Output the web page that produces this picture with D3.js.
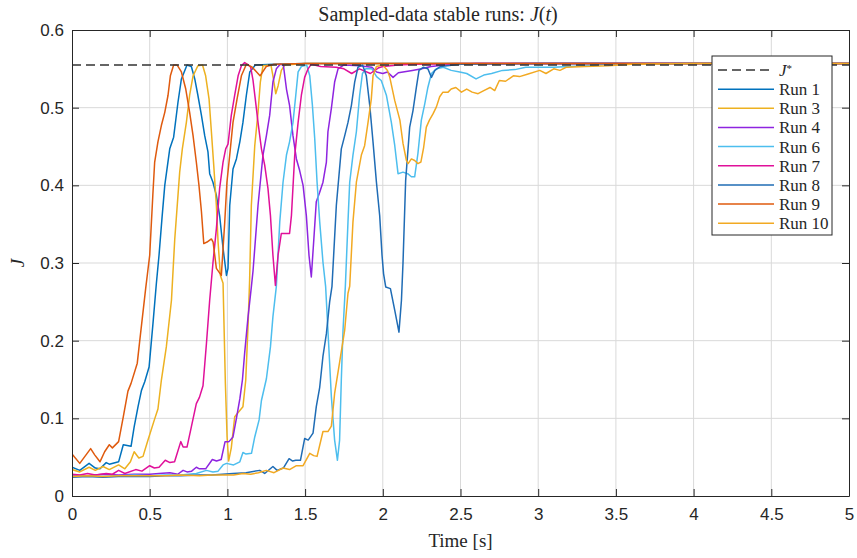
<!DOCTYPE html>
<html>
<head>
<meta charset="utf-8">
<script src="https://cdn.jsdelivr.net/npm/d3@7"></script>
<style>
  body { margin: 0; background: #fff; }
  .tick text { font-family: "Liberation Sans", Arial, sans-serif; font-size: 17px; fill: #262626; }
</style>
</head>
<body>
<div id="chart"></div>
<script>
// Reference value of the cost
const jStar = 0.555;

// Tick values for both axes
const xTicks = [0, 0.5, 1, 1.5, 2, 2.5, 3, 3.5, 4, 4.5, 5];
const yTicks = [0, 0.1, 0.2, 0.3, 0.4, 0.5, 0.6];

// Run names and colours (legend order)
const runNames = ['Run 1', 'Run 3', 'Run 4', 'Run 6', 'Run 7', 'Run 8', 'Run 9', 'Run 10'];
const runColors = ['#0072BD', '#EDB120', '#8E24E0', '#4DBEEE', '#E0109A', '#1F6CB5', '#DF5A0E', '#F2A922'];

// [time, J] samples for each run
const run1 = [[0,0.037],[0.05,0.033],[0.11,0.042],[0.15,0.036],[0.18,0.035],[0.22,0.043],[0.24,0.041],[0.30,0.044],[0.33,0.066],[0.38,0.064],[0.40,0.089],[0.425,0.115],[0.447,0.136],[0.468,0.147],[0.496,0.166],[0.521,0.222],[0.543,0.274],[0.56,0.31],[0.58,0.36],[0.597,0.40],[0.629,0.447],[0.654,0.462],[0.682,0.507],[0.704,0.537],[0.74,0.555],[0.768,0.553],[0.79,0.537],[0.81,0.516],[0.833,0.49],[0.854,0.464],[0.875,0.443],[0.886,0.415],[0.907,0.404],[0.929,0.387],[0.95,0.361],[0.972,0.319],[0.994,0.284],[1.004,0.293],[1.015,0.374],[1.036,0.421],[1.058,0.434],[1.08,0.456],[1.10,0.481],[1.122,0.516],[1.144,0.546],[1.18,0.555],[1.3,0.556],[1.5,0.557],[2,0.557],[3,0.557],[4,0.557],[5,0.557]];

const run3 = [[0,0.034],[0.05,0.031],[0.11,0.037],[0.15,0.033],[0.20,0.038],[0.24,0.034],[0.30,0.040],[0.34,0.035],[0.376,0.044],[0.40,0.057],[0.43,0.049],[0.457,0.051],[0.489,0.072],[0.53,0.098],[0.553,0.112],[0.575,0.149],[0.607,0.192],[0.64,0.252],[0.661,0.33],[0.693,0.417],[0.71,0.447],[0.736,0.481],[0.757,0.516],[0.779,0.541],[0.81,0.554],[0.84,0.555],[0.86,0.541],[0.882,0.511],[0.897,0.469],[0.912,0.426],[0.929,0.374],[0.94,0.327],[0.955,0.284],[0.972,0.274],[0.987,0.145],[0.998,0.076],[1.008,0.045],[1.025,0.062],[1.047,0.102],[1.08,0.11],[1.10,0.115],[1.118,0.149],[1.133,0.22],[1.143,0.278],[1.154,0.374],[1.176,0.451],[1.197,0.494],[1.212,0.533],[1.229,0.554],[1.28,0.555],[1.293,0.541],[1.311,0.518],[1.326,0.528],[1.347,0.548],[1.37,0.555],[1.5,0.557],[2,0.557],[3,0.557],[4,0.557],[5,0.557]];

const run4 = [[0,0.027],[0.1,0.026],[0.2,0.028],[0.3,0.027],[0.4,0.028],[0.5,0.028],[0.56,0.029],[0.63,0.030],[0.68,0.028],[0.715,0.033],[0.74,0.031],[0.77,0.032],[0.80,0.037],[0.82,0.035],[0.86,0.035],[0.903,0.047],[0.93,0.045],[0.96,0.047],[0.985,0.070],[1.01,0.070],[1.036,0.076],[1.058,0.100],[1.08,0.125],[1.097,0.15],[1.111,0.184],[1.133,0.231],[1.154,0.269],[1.165,0.29],[1.197,0.374],[1.229,0.439],[1.251,0.464],[1.272,0.49],[1.293,0.533],[1.315,0.55],[1.34,0.556],[1.36,0.555],[1.38,0.524],[1.40,0.503],[1.422,0.464],[1.444,0.434],[1.465,0.419],[1.487,0.40],[1.508,0.361],[1.525,0.31],[1.54,0.282],[1.555,0.327],[1.572,0.379],[1.594,0.391],[1.615,0.404],[1.637,0.43],[1.647,0.469],[1.669,0.499],[1.69,0.533],[1.712,0.55],[1.75,0.555],[1.85,0.554],[1.93,0.552],[1.96,0.546],[2.0,0.544],[2.03,0.546],[2.066,0.539],[2.10,0.545],[2.13,0.546],[2.19,0.548],[2.25,0.550],[2.31,0.553],[2.4,0.555],[2.6,0.557],[3,0.557],[4,0.557],[5,0.557]];

const run6 = [[0,0.025],[0.1,0.026],[0.2,0.025],[0.3,0.026],[0.4,0.027],[0.5,0.026],[0.6,0.027],[0.7,0.027],[0.8,0.029],[0.865,0.033],[0.907,0.031],[0.94,0.032],[0.972,0.040],[0.994,0.042],[1.04,0.040],[1.08,0.044],[1.10,0.056],[1.12,0.054],[1.155,0.055],[1.176,0.076],[1.204,0.098],[1.219,0.123],[1.251,0.151],[1.277,0.192],[1.293,0.231],[1.315,0.27],[1.337,0.353],[1.358,0.404],[1.38,0.439],[1.40,0.456],[1.422,0.481],[1.44,0.516],[1.455,0.546],[1.476,0.553],[1.51,0.555],[1.53,0.541],[1.547,0.503],[1.562,0.46],[1.577,0.404],[1.594,0.353],[1.615,0.301],[1.632,0.27],[1.647,0.213],[1.669,0.128],[1.69,0.072],[1.708,0.046],[1.722,0.072],[1.733,0.149],[1.744,0.213],[1.759,0.27],[1.776,0.353],[1.787,0.404],[1.808,0.439],[1.83,0.469],[1.851,0.516],[1.869,0.544],[1.89,0.55],[1.93,0.55],[1.96,0.54],[1.99,0.535],[2.023,0.516],[2.055,0.481],[2.077,0.451],[2.098,0.415],[2.13,0.417],[2.16,0.415],[2.184,0.411],[2.205,0.411],[2.226,0.441],[2.248,0.484],[2.27,0.505],[2.29,0.526],[2.313,0.544],[2.345,0.55],[2.39,0.552],[2.44,0.548],[2.495,0.546],[2.54,0.544],[2.60,0.537],[2.65,0.542],[2.70,0.544],[2.77,0.548],[2.85,0.549],[2.92,0.552],[3.1,0.552],[3.3,0.554],[3.45,0.556],[4,0.557],[5,0.557]];

const run7 = [[0,0.028],[0.05,0.027],[0.10,0.029],[0.15,0.027],[0.22,0.029],[0.26,0.028],[0.30,0.033],[0.34,0.029],[0.41,0.034],[0.45,0.032],[0.50,0.039],[0.53,0.036],[0.56,0.037],[0.60,0.046],[0.63,0.043],[0.66,0.044],[0.70,0.070],[0.715,0.063],[0.74,0.063],[0.768,0.089],[0.80,0.119],[0.82,0.127],[0.843,0.142],[0.865,0.196],[0.886,0.252],[0.907,0.30],[0.929,0.344],[0.95,0.396],[0.972,0.43],[0.989,0.447],[1.004,0.453],[1.025,0.49],[1.047,0.516],[1.069,0.541],[1.09,0.554],[1.111,0.558],[1.135,0.555],[1.15,0.552],[1.165,0.535],[1.18,0.51],[1.197,0.481],[1.219,0.447],[1.24,0.426],[1.261,0.396],[1.277,0.361],[1.293,0.31],[1.309,0.271],[1.326,0.31],[1.347,0.338],[1.40,0.338],[1.412,0.361],[1.433,0.438],[1.455,0.481],[1.476,0.516],[1.497,0.539],[1.519,0.55],[1.54,0.556],[1.60,0.553],[1.70,0.552],[1.75,0.550],[1.80,0.544],[1.85,0.550],[1.92,0.544],[1.97,0.551],[2.0,0.553],[2.1,0.555],[2.2,0.556],[2.5,0.557],[3,0.557],[4,0.557],[5,0.557]];

const run8 = [[0,0.024],[0.1,0.025],[0.2,0.024],[0.3,0.025],[0.4,0.025],[0.5,0.025],[0.6,0.026],[0.7,0.026],[0.82,0.027],[0.9,0.027],[1.036,0.029],[1.12,0.030],[1.208,0.033],[1.24,0.029],[1.293,0.038],[1.32,0.033],[1.36,0.036],[1.397,0.048],[1.42,0.045],[1.44,0.046],[1.47,0.046],[1.497,0.074],[1.52,0.072],[1.551,0.081],[1.572,0.115],[1.594,0.14],[1.615,0.18],[1.637,0.209],[1.658,0.25],[1.673,0.27],[1.701,0.374],[1.733,0.447],[1.755,0.464],[1.776,0.481],[1.798,0.503],[1.819,0.533],[1.84,0.552],[1.87,0.555],[1.894,0.541],[1.916,0.503],[1.937,0.456],[1.959,0.404],[1.98,0.361],[1.995,0.31],[2.005,0.286],[2.019,0.269],[2.049,0.267],[2.077,0.239],[2.104,0.211],[2.12,0.252],[2.13,0.30],[2.147,0.406],[2.173,0.475],[2.194,0.496],[2.216,0.526],[2.233,0.548],[2.26,0.552],[2.29,0.55],[2.313,0.539],[2.335,0.548],[2.37,0.553],[2.5,0.556],[3,0.557],[4,0.557],[5,0.557]];

const run9 = [[0,0.054],[0.05,0.042],[0.12,0.061],[0.146,0.053],[0.18,0.044],[0.21,0.057],[0.24,0.066],[0.26,0.062],[0.30,0.070],[0.33,0.102],[0.36,0.135],[0.38,0.145],[0.42,0.171],[0.436,0.20],[0.474,0.267],[0.50,0.31],[0.52,0.387],[0.532,0.43],[0.553,0.456],[0.575,0.477],[0.597,0.494],[0.618,0.516],[0.633,0.541],[0.654,0.555],[0.676,0.555],[0.704,0.546],[0.732,0.524],[0.757,0.494],[0.779,0.464],[0.80,0.43],[0.817,0.40],[0.833,0.366],[0.848,0.325],[0.869,0.327],[0.897,0.331],[0.908,0.327],[0.929,0.293],[0.961,0.284],[0.983,0.353],[0.997,0.404],[1.015,0.439],[1.036,0.481],[1.062,0.511],[1.09,0.541],[1.122,0.556],[1.16,0.552],[1.21,0.541],[1.25,0.553],[1.30,0.556],[1.5,0.557],[2,0.557],[3,0.557],[4,0.557],[5,0.557]];

const run10 = [[0,0.025],[0.1,0.026],[0.2,0.025],[0.3,0.026],[0.4,0.026],[0.5,0.026],[0.6,0.026],[0.7,0.027],[0.82,0.026],[0.9,0.027],[1.04,0.027],[1.1,0.029],[1.15,0.028],[1.2,0.030],[1.25,0.033],[1.3,0.030],[1.358,0.036],[1.40,0.034],[1.444,0.039],[1.487,0.039],[1.53,0.055],[1.555,0.052],[1.577,0.051],[1.615,0.083],[1.647,0.083],[1.669,0.09],[1.69,0.132],[1.722,0.172],[1.755,0.214],[1.776,0.261],[1.787,0.27],[1.808,0.353],[1.83,0.404],[1.862,0.439],[1.883,0.451],[1.905,0.481],[1.926,0.511],[1.937,0.541],[1.959,0.553],[2.0,0.555],[2.03,0.548],[2.045,0.539],[2.077,0.509],[2.11,0.484],[2.13,0.454],[2.152,0.432],[2.163,0.428],[2.184,0.434],[2.205,0.432],[2.226,0.428],[2.245,0.43],[2.263,0.449],[2.28,0.475],[2.30,0.484],[2.323,0.492],[2.345,0.501],[2.366,0.514],[2.387,0.52],[2.42,0.52],[2.44,0.524],[2.47,0.526],[2.506,0.52],[2.54,0.524],[2.575,0.52],[2.613,0.518],[2.65,0.522],[2.69,0.526],[2.72,0.522],[2.75,0.535],[2.79,0.534],[2.84,0.541],[2.88,0.540],[2.93,0.543],[3.01,0.548],[3.05,0.544],[3.1,0.55],[3.14,0.548],[3.18,0.552],[3.3,0.553],[3.45,0.554],[3.6,0.556],[4,0.557],[5,0.557]];

const runData = [run1, run3, run4, run6, run7, run8, run9, run10];

// Build the list of series for drawing
const runs = runNames.map((name, i) => ({ name: name, color: runColors[i], values: runData[i] }));

// Chart dimensions
const margin = {top: 30, right: 8, bottom: 62, left: 72},
  width = 857 - margin.left - margin.right,
  height = 558 - margin.top - margin.bottom;

const x = d3.scaleLinear().domain([0, 5]).range([0, width]);
const y = d3.scaleLinear().domain([0, 0.6]).range([height, 0]);

const svg = d3.select('#chart').append('svg')
  .attr('width', 857)
  .attr('height', 558);

const g = svg.append('g')
  .attr('transform', 'translate(' + margin.left + ',' + margin.top + ')');

// Grid lines
g.append('g').selectAll('line')
  .data(xTicks.slice(1, -1))
  .enter().append('line')
  .attr('x1', d => x(d)).attr('x2', d => x(d))
  .attr('y1', 0).attr('y2', height)
  .attr('stroke', '#d9d9d9').attr('stroke-width', 1);

g.append('g').selectAll('line')
  .data(yTicks.slice(1, -1))
  .enter().append('line')
  .attr('x1', 0).attr('x2', width)
  .attr('y1', d => y(d)).attr('y2', d => y(d))
  .attr('stroke', '#d9d9d9').attr('stroke-width', 1);

// Clip the runs to the plot area
svg.append('defs').append('clipPath').attr('id', 'plot-clip')
  .append('rect').attr('x', 0).attr('y', -2).attr('width', width).attr('height', height + 2);

const line = d3.line()
  .x(d => x(d[0]))
  .y(d => y(d[1]));

const plot = g.append('g').attr('clip-path', 'url(#plot-clip)');

plot.selectAll('.run')
  .data(runs)
  .enter().append('path')
  .attr('class', 'run')
  .attr('d', d => line(d.values))
  .attr('fill', 'none')
  .attr('stroke', d => d.color)
  .attr('stroke-width', 1.5)
  .attr('stroke-linejoin', 'round');

// Reference line J*
plot.append('line')
  .attr('x1', 0).attr('x2', width)
  .attr('y1', y(jStar)).attr('y2', y(jStar))
  .attr('stroke', '#333')
  .attr('stroke-width', 1.5)
  .attr('stroke-dasharray', '9,5');

// Axes with inward ticks (MATLAB style box)
const axisColor = '#262626';

const xAxis = g.append('g')
  .attr('transform', 'translate(0,' + height + ')')
  .call(d3.axisBottom(x).tickValues(xTicks).tickFormat(d3.format('~g')).tickSizeInner(-7).tickSizeOuter(0).tickPadding(12));
xAxis.selectAll('text').attr('dy', '0.71em');

const yAxis = g.append('g')
  .call(d3.axisLeft(y).tickValues(yTicks).tickFormat(d3.format('~g')).tickSizeInner(-7).tickSizeOuter(0).tickPadding(8));

const xTop = g.append('g')
  .call(d3.axisTop(x).tickValues(xTicks).tickFormat('').tickSizeInner(-7).tickSizeOuter(0));

const yRight = g.append('g')
  .attr('transform', 'translate(' + width + ',0)')
  .call(d3.axisRight(y).tickValues(yTicks).tickFormat('').tickSizeInner(-7).tickSizeOuter(0));

[xAxis, yAxis, xTop, yRight].forEach(a => {
  a.select('.domain').attr('stroke', axisColor).attr('stroke-width', 1);
  a.selectAll('.tick line').attr('stroke', axisColor);
});

// Title and axis labels
svg.append('text')
  .attr('x', 438)
  .attr('y', 21)
  .attr('text-anchor', 'middle')
  .style('font-family', '"Liberation Serif", "DejaVu Serif", serif')
  .style('font-size', '20px')
  .attr('fill', '#262626')
  .html('Sampled-data stable runs: <tspan font-style="italic">J</tspan>(<tspan font-style="italic">t</tspan>)');

svg.append('text')
  .attr('x', margin.left + width / 2)
  .attr('y', 547)
  .attr('text-anchor', 'middle')
  .style('font-family', '"Liberation Serif", "DejaVu Serif", serif')
  .style('font-size', '19px')
  .attr('fill', '#262626')
  .text('Time [s]');

svg.append('text')
  .attr('transform', 'translate(24,' + (margin.top + height / 2) + ') rotate(-90)')
  .attr('text-anchor', 'middle')
  .style('font-family', '"Liberation Serif", "DejaVu Serif", serif')
  .style('font-size', '19px')
  .style('font-style', 'italic')
  .attr('fill', '#262626')
  .text('J');

// Legend
const legend = svg.append('g').attr('transform', 'translate(712,56)');
legend.append('rect')
  .attr('width', 120).attr('height', 179)
  .attr('fill', '#fff')
  .attr('stroke', '#262626').attr('stroke-width', 1);

const legendItems = [{name: 'J*', color: '#333', dash: '9,5'}].concat(runs.map(r => ({name: r.name, color: r.color, dash: null})));

const rows = legend.selectAll('.row')
  .data(legendItems)
  .enter().append('g')
  .attr('class', 'row')
  .attr('transform', (d, i) => 'translate(0,' + (14 + i * 19.15) + ')');

rows.append('line')
  .attr('x1', 6).attr('x2', 62)
  .attr('stroke', d => d.color)
  .attr('stroke-width', 1.5)
  .attr('stroke-dasharray', d => d.dash);

rows.append('text')
  .attr('x', 67)
  .attr('dy', '0.35em')
  .style('font-family', '"Liberation Serif", "DejaVu Serif", serif')
  .style('font-size', '17px')
  .attr('fill', '#262626')
  .each(function(d) {
    const t = d3.select(this);
    if (d.name === 'J*') {
      t.append('tspan').style('font-style', 'italic').text('J');
      t.append('tspan').attr('dy', '-0.4em').style('font-size', '11px').text('*');
    } else {
      t.text(d.name);
    }
  });
</script>
</body>
</html>
